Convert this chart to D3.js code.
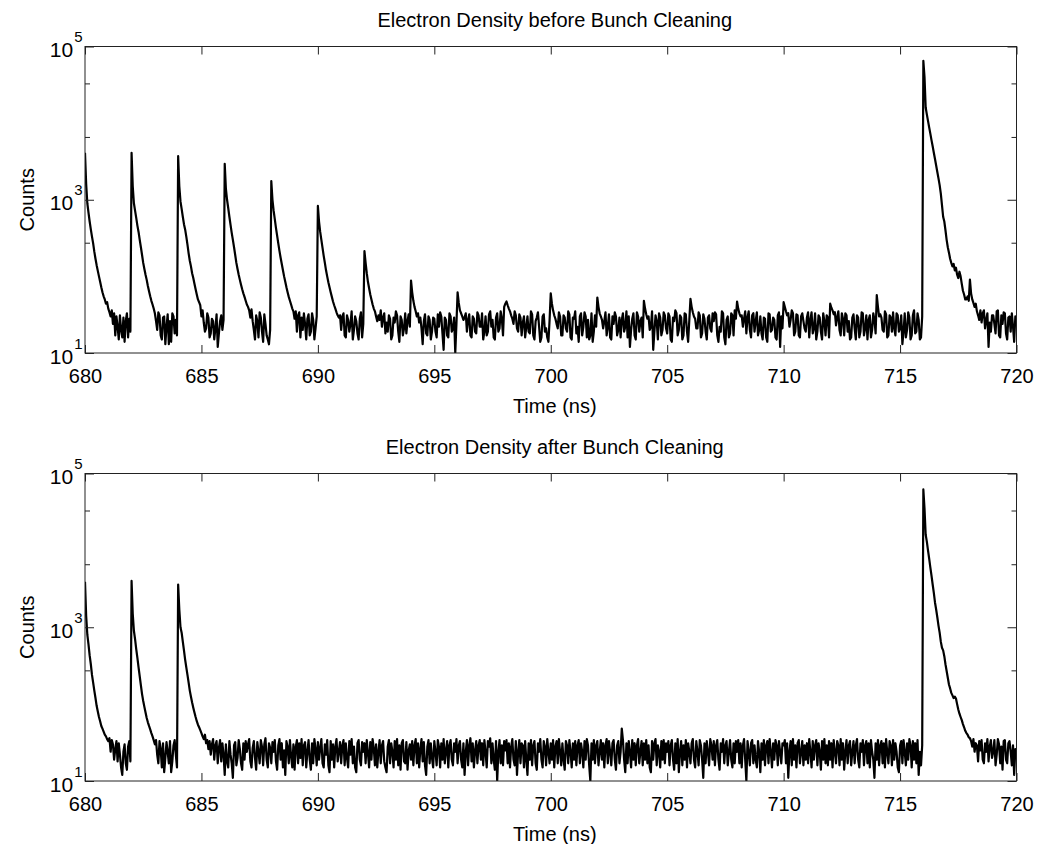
<!DOCTYPE html>
<html>
<head>
<meta charset="utf-8">
<script src="https://cdn.jsdelivr.net/npm/d3@7"></script>
<style>
    body { margin: 0; background: #fff; }
    svg { display: block; font-family: 'Liberation Sans', Arial, Helvetica, sans-serif; }
</style>
</head>
<body>
<svg></svg>
<script>

/*
*   Data: counts sampled every 0.05 ns from 680 ns to 720 ns (one line per ns)
*/

const TIME_START = 680
const TIME_STEP = 0.05

const countsBefore = [
    4100, 1600, 900, 680, 520, 410, 330, 270, 210, 170, 140, 118, 100, 85, 72, 62, 55, 50, 44, 46,
    38, 34, 30, 36, 24, 33, 17, 30, 22, 15, 31, 20, 16, 29, 14, 26, 33, 16, 28, 19,
    4100, 1500, 900, 720, 580, 460, 380, 300, 240, 190, 150, 125, 105, 90, 75, 64, 55, 48, 43, 38,
    33, 26, 20, 34, 31, 17, 15, 29, 30, 13, 22, 32, 13, 26, 14, 33, 30, 18, 27, 17,
    3700, 1500, 950, 760, 600, 480, 410, 330, 260, 200, 160, 135, 110, 95, 80, 68, 58, 50, 46, 42,
    30, 36, 25, 19, 21, 33, 29, 16, 18, 28, 26, 15, 21, 32, 12, 18, 26, 31, 20, 27,
    2950, 1400, 1000, 780, 600, 470, 370, 300, 240, 190, 150, 125, 105, 90, 78, 68, 60, 54, 48, 43,
    40, 36, 29, 37, 26, 20, 15, 31, 26, 16, 34, 29, 19, 14, 32, 24, 17, 15, 13, 20,
    1750, 1000, 720, 560, 430, 340, 270, 215, 175, 145, 120, 100, 85, 72, 62, 54, 48, 43, 38, 35,
    28, 35, 19, 31, 34, 16, 29, 20, 33, 24, 15, 28, 32, 17, 19, 33, 27, 15, 21, 30,
    830, 520, 380, 300, 235, 185, 150, 120, 100, 84, 72, 62, 54, 47, 42, 38, 34, 31, 29, 31,
    20, 30, 33, 17, 16, 31, 27, 19, 24, 35, 15, 20, 30, 26, 18, 15, 28, 34, 16, 24,
    213, 150, 110, 85, 70, 58, 50, 43, 38, 35, 30, 26, 31, 27, 36, 22, 29, 33, 18, 25,
    19, 31, 28, 15, 17, 29, 25, 35, 31, 19, 14, 30, 27, 17, 21, 33, 18, 26, 32, 22,
    88, 62, 48, 40, 35, 30, 33, 25, 29, 21, 13, 26, 32, 18, 17, 30, 27, 15, 19, 29,
    28, 19, 16, 32, 22, 34, 30, 18, 11, 29, 27, 17, 16, 33, 30, 19, 21, 29, 10, 24,
    62, 45, 36, 33, 30, 27, 29, 33, 19, 27, 32, 17, 16, 30, 28, 19, 18, 34, 31, 22,
    22, 33, 15, 19, 30, 17, 19, 32, 35, 22, 27, 16, 15, 29, 33, 19, 21, 35, 28, 17,
    40, 44, 47, 42, 38, 35, 31, 28, 24, 35, 31, 21, 19, 32, 29, 17, 25, 30, 16, 22,
    30, 19, 18, 35, 32, 17, 15, 26, 29, 34, 22, 14, 16, 30, 32, 19, 21, 16, 14, 27,
    60, 44, 36, 31, 28, 24, 21, 34, 30, 17, 17, 31, 29, 21, 19, 35, 32, 16, 15, 29,
    28, 35, 18, 22, 14, 30, 33, 17, 22, 34, 30, 16, 27, 15, 17, 33, 14, 19, 31, 22,
    53, 40, 33, 30, 27, 21, 26, 34, 17, 22, 32, 16, 15, 30, 24, 34, 30, 17, 20, 29,
    16, 27, 33, 19, 22, 35, 16, 30, 12, 20, 28, 33, 17, 15, 34, 30, 19, 26, 29, 16,
    48, 38, 32, 28, 30, 20, 22, 35, 11, 19, 31, 26, 15, 33, 29, 17, 20, 34, 31, 21,
    18, 33, 30, 15, 14, 29, 26, 36, 33, 17, 20, 31, 29, 15, 17, 33, 32, 19, 14, 27,
    51, 40, 34, 30, 28, 21, 21, 34, 31, 16, 18, 32, 28, 19, 15, 29, 31, 21, 19, 33,
    26, 34, 32, 17, 14, 22, 19, 35, 33, 16, 13, 27, 30, 16, 18, 33, 31, 17, 36, 28,
    47, 38, 33, 30, 31, 22, 28, 35, 18, 29, 35, 20, 16, 31, 33, 19, 26, 34, 17, 20,
    30, 18, 15, 29, 28, 16, 14, 33, 32, 19, 20, 29, 27, 16, 15, 31, 34, 12, 30, 21,
    46, 40, 35, 31, 33, 22, 27, 36, 33, 17, 19, 32, 31, 17, 16, 30, 33, 26, 21, 19,
    29, 34, 16, 27, 34, 18, 21, 33, 15, 19, 31, 29, 19, 15, 33, 26, 17, 31, 29, 16,
    44, 39, 36, 32, 34, 23, 29, 35, 20, 17, 33, 28, 17, 33, 31, 19, 26, 15, 16, 29,
    32, 21, 15, 31, 29, 16, 19, 34, 33, 17, 21, 31, 15, 27, 31, 16, 20, 33, 27, 18,
    57, 40, 30, 32, 29, 20, 19, 35, 32, 16, 17, 31, 29, 19, 34, 21, 17, 33, 31, 19,
    21, 31, 13, 19, 33, 16, 20, 34, 29, 15, 17, 31, 36, 18, 19, 33, 27, 15, 16, 30,
    65000, 40000, 16000, 13000, 10700, 8800, 7300, 6000, 5000, 4100, 3400, 2800, 2300, 1900, 1550, 1200, 850, 600, 520, 400,
    300, 240, 204, 170, 150, 135, 145, 120, 130, 105, 95, 115, 100, 80, 65, 58, 50, 50, 55, 48,
    91, 60, 50, 45, 40, 44, 35, 31, 27, 36, 25, 33, 36, 21, 27, 33, 12, 25, 19, 31,
    31, 24, 18, 35, 36, 17, 16, 31, 24, 34, 33, 18, 15, 29, 30, 19, 33, 22, 14, 30,
    28
]

const countsAfter = [
    3900, 1400, 800, 600, 430, 330, 240, 190, 150, 120, 95, 80, 68, 60, 52, 48, 44, 40, 38, 35,
    33, 36, 24, 34, 30, 19, 26, 33, 18, 31, 22, 15, 12, 24, 30, 17, 14, 28, 33, 18,
    4000, 1500, 900, 700, 520, 400, 300, 230, 175, 135, 110, 92, 78, 66, 58, 52, 47, 42, 38, 34,
    30, 34, 22, 17, 33, 26, 15, 31, 13, 20, 32, 24, 17, 33, 13, 18, 29, 34, 22, 15,
    3600, 1700, 1000, 850, 650, 500, 380, 300, 240, 190, 150, 125, 105, 90, 78, 68, 60, 54, 50, 46,
    42, 38, 35, 40, 31, 34, 26, 33, 22, 30, 35, 19, 29, 33, 17, 27, 34, 18, 31, 22,
    12, 30, 18, 15, 33, 22, 17, 11, 29, 32, 16, 20, 34, 26, 17, 14, 31, 19, 33, 24,
    30, 35, 18, 15, 27, 33, 20, 14, 32, 24, 17, 34, 28, 16, 30, 36, 19, 15, 31, 27,
    17, 32, 24, 34, 18, 14, 29, 35, 19, 31, 15, 25, 12, 33, 28, 17, 34, 21, 15, 30,
    14, 28, 34, 17, 31, 20, 35, 16, 29, 32, 15, 24, 34, 19, 14, 31, 17, 35, 26, 16,
    32, 19, 27, 35, 17, 15, 30, 22, 34, 16, 13, 33, 19, 30, 15, 28, 35, 18, 24, 32,
    17, 29, 34, 16, 31, 20, 15, 33, 22, 35, 17, 28, 15, 13, 31, 34, 19, 16, 32, 24,
    31, 17, 34, 23, 15, 32, 19, 35, 27, 16, 30, 15, 24, 34, 17, 29, 33, 18, 15, 13,
    28, 34, 17, 31, 24, 15, 33, 19, 35, 16, 29, 14, 31, 34, 18, 17, 32, 14, 25, 30,
    19, 33, 16, 29, 35, 17, 31, 15, 26, 35, 18, 32, 16, 12, 28, 34, 17, 31, 20, 15,
    33, 24, 16, 34, 28, 15, 31, 19, 35, 17, 25, 33, 15, 29, 34, 19, 16, 31, 24, 35,
    17, 29, 33, 19, 15, 31, 12, 24, 34, 16, 29, 36, 18, 31, 15, 25, 33, 17, 29, 34,
    19, 31, 16, 34, 24, 15, 33, 28, 36, 17, 31, 19, 14, 33, 10, 24, 34, 17, 29, 16,
    33, 25, 34, 17, 31, 15, 28, 35, 19, 16, 33, 12, 24, 34, 17, 31, 29, 15, 33, 19,
    12, 31, 19, 34, 16, 29, 33, 17, 14, 31, 24, 35, 19, 15, 33, 28, 16, 35, 24, 17,
    31, 19, 34, 15, 28, 33, 17, 35, 24, 16, 31, 19, 14, 33, 29, 17, 34, 24, 15, 31,
    19, 33, 16, 29, 34, 17, 31, 24, 15, 33, 19, 35, 29, 16, 10, 31, 19, 34, 17, 29,
    33, 16, 24, 34, 19, 31, 15, 29, 35, 17, 33, 24, 16, 31, 34, 19, 14, 29, 33, 17,
    24, 48, 34, 19, 13, 31, 17, 33, 24, 15, 34, 19, 31, 16, 29, 35, 17, 24, 33, 16,
    31, 19, 34, 17, 29, 15, 13, 33, 19, 31, 35, 16, 29, 24, 15, 33, 19, 34, 17, 31,
    24, 33, 16, 29, 34, 19, 14, 31, 17, 35, 13, 24, 33, 16, 29, 19, 34, 15, 31, 24,
    17, 31, 35, 19, 15, 33, 24, 16, 34, 29, 19, 11, 31, 17, 33, 24, 16, 35, 29, 19,
    33, 16, 29, 34, 19, 14, 31, 24, 35, 17, 29, 33, 16, 24, 34, 19, 15, 31, 17, 33,
    24, 34, 17, 31, 15, 29, 35, 19, 10, 33, 24, 16, 31, 34, 17, 29, 19, 15, 33, 24,
    13, 31, 19, 34, 16, 29, 33, 17, 35, 24, 15, 31, 19, 34, 29, 16, 33, 24, 17, 31,
    29, 34, 17, 31, 11, 24, 33, 16, 35, 19, 29, 15, 31, 34, 17, 24, 33, 16, 29, 19,
    31, 17, 35, 24, 15, 33, 19, 29, 34, 16, 31, 24, 14, 33, 19, 35, 17, 29, 16, 33,
    19, 31, 15, 34, 24, 17, 33, 29, 16, 35, 19, 31, 14, 24, 34, 17, 29, 33, 16, 24,
    33, 17, 29, 35, 19, 15, 31, 24, 34, 16, 29, 33, 17, 31, 15, 34, 24, 19, 11, 31,
    19, 34, 16, 29, 33, 17, 31, 15, 35, 24, 17, 33, 29, 16, 34, 19, 31, 24, 15, 13,
    29, 33, 17, 34, 24, 16, 31, 19, 35, 29, 15, 33, 19, 31, 17, 34, 12, 24, 16, 29,
    62000, 35000, 16000, 13000, 10000, 7800, 6000, 4700, 3600, 2800, 2100, 1700, 1350, 1050, 850, 650, 540, 500, 420, 330,
    270, 220, 180, 160, 140, 130, 120, 125, 118, 100, 85, 75, 68, 62, 55, 50, 45, 42, 40, 37,
    36, 33, 28, 35, 24, 31, 29, 18, 33, 25, 34, 19, 17, 31, 24, 35, 18, 28, 34, 20,
    24, 34, 16, 22, 35, 30, 17, 28, 14, 33, 34, 19, 17, 31, 33, 24, 16, 29, 12, 26,
    25
]

const titles = ['Electron Density before Bunch Cleaning', 'Electron Density after Bunch Cleaning']
const xLabel = 'Time (ns)'
const yLabel = 'Counts'
const xTicks = [680, 685, 690, 695, 700, 705, 710, 715, 720]
const yMajorTicks = [1e1, 1e3, 1e5]
const yMinorTicks = [275, 6600, 33000]


/*
*   Constants
*/

const CANVAS_WIDTH = 1037
const CANVAS_HEIGHT = 844
const PLOT_LEFT = 85
const PLOT_RIGHT = 1016.5
const FONT_SIZE = 20
const YLAB_SIZE = 21
const SUP_SIZE = 15
const MAJOR_TICK = 9
const MINOR_TICK = 5
const LINE_WIDTH = 2.2

const PANELS = [
    { top: 46.5, bottom: 353, counts: countsBefore, title: titles[0] },
    { top: 473.5, bottom: 781, counts: countsAfter, title: titles[1] },
]


/*
*   Shared x scale
*/

const x = d3.scaleLinear()
    .domain([xTicks[0], xTicks[xTicks.length - 1]])
    .range([PLOT_LEFT, PLOT_RIGHT])


/*
*   Draws one subplot.
*/

const drawPanel = (svg, panel, i) => {

    const y = d3.scaleLog()
        .domain([yMajorTicks[0], yMajorTicks[yMajorTicks.length - 1]])
        .range([panel.bottom, panel.top])

    const g = svg.append('g')

    g.append('clipPath')
        .attr('id', `clip${i}`)
        .append('rect')
        .attr('x', PLOT_LEFT)
        .attr('y', panel.top)
        .attr('width', PLOT_RIGHT - PLOT_LEFT)
        .attr('height', panel.bottom - panel.top)

    const line = d3.line()
        .x((d, j) => x(TIME_START + j * TIME_STEP))
        .y(d => y(d))

    g.append('path')
        .datum(panel.counts)
        .attr('clip-path', `url(#clip${i})`)
        .attr('d', line)
        .attr('fill', 'none')
        .attr('stroke', '#000')
        .attr('stroke-width', LINE_WIDTH)
        .attr('stroke-linejoin', 'round')

    // ticks, all pointing inward
    const addAxis = (axis, tx, ty) => {
        const a = g.append('g')
            .attr('transform', `translate(${tx},${ty})`)
            .call(axis)
        a.select('.domain').remove()
        a.selectAll('line').attr('stroke', '#222')
        a.selectAll('text')
            .style('font-size', `${FONT_SIZE}px`)
            .attr('fill', '#000')
        return a
    }

    addAxis(d3.axisBottom(x).tickValues(xTicks).tickSizeInner(-8).tickSizeOuter(0).tickPadding(16), 0, panel.bottom)
    addAxis(d3.axisTop(x).tickValues(xTicks).tickSizeInner(-8).tickSizeOuter(0).tickFormat(''), 0, panel.top)
    addAxis(d3.axisLeft(y).tickValues(yMajorTicks).tickSizeInner(-MAJOR_TICK).tickSizeOuter(0).tickFormat(''), PLOT_LEFT, 0)
    addAxis(d3.axisLeft(y).tickValues(yMinorTicks).tickSizeInner(-MINOR_TICK).tickSizeOuter(0).tickFormat(''), PLOT_LEFT, 0)
    addAxis(d3.axisRight(y).tickValues(yMajorTicks).tickSizeInner(-MAJOR_TICK).tickSizeOuter(0).tickFormat(''), PLOT_RIGHT, 0)
    addAxis(d3.axisRight(y).tickValues(yMinorTicks).tickSizeInner(-MINOR_TICK).tickSizeOuter(0).tickFormat(''), PLOT_RIGHT, 0)

    // box
    g.append('rect')
        .attr('x', PLOT_LEFT)
        .attr('y', panel.top)
        .attr('width', PLOT_RIGHT - PLOT_LEFT)
        .attr('height', panel.bottom - panel.top)
        .attr('fill', 'none')
        .attr('stroke', '#222')
        .attr('stroke-width', 1)

    // 10^n labels
    const labels = g.selectAll('.ylab')
        .data(yMajorTicks)
        .join('text')
        .attr('class', 'ylab')
        .attr('x', PLOT_LEFT - 2.5)
        .attr('y', d => y(d) + 10.5)
        .attr('text-anchor', 'end')
        .style('font-size', `${YLAB_SIZE}px`)

    labels.append('tspan').text('10')
    labels.append('tspan')
        .attr('dx', 1)
        .attr('dy', -15)
        .style('font-size', `${SUP_SIZE}px`)
        .text(d => Math.round(Math.log10(d)))

    const midX = (PLOT_LEFT + PLOT_RIGHT) / 2 + 4

    g.append('text')
        .attr('x', midX)
        .attr('y', panel.top - 20)
        .attr('text-anchor', 'middle')
        .style('font-size', `${FONT_SIZE}px`)
        .text(panel.title)

    g.append('text')
        .attr('x', midX)
        .attr('y', panel.bottom + 60)
        .attr('text-anchor', 'middle')
        .style('font-size', `${FONT_SIZE}px`)
        .text(xLabel)

    g.append('text')
        .attr('transform', `translate(34,${(panel.top + panel.bottom) / 2}) rotate(-90)`)
        .attr('text-anchor', 'middle')
        .style('font-size', `${FONT_SIZE}px`)
        .text(yLabel)
}


/*
*   Execution entry point.
*/

const svg = d3.select('svg')
    .attr('width', CANVAS_WIDTH)
    .attr('height', CANVAS_HEIGHT)

PANELS.forEach((p, i) => drawPanel(svg, p, i))

</script>
</body>
</html>
